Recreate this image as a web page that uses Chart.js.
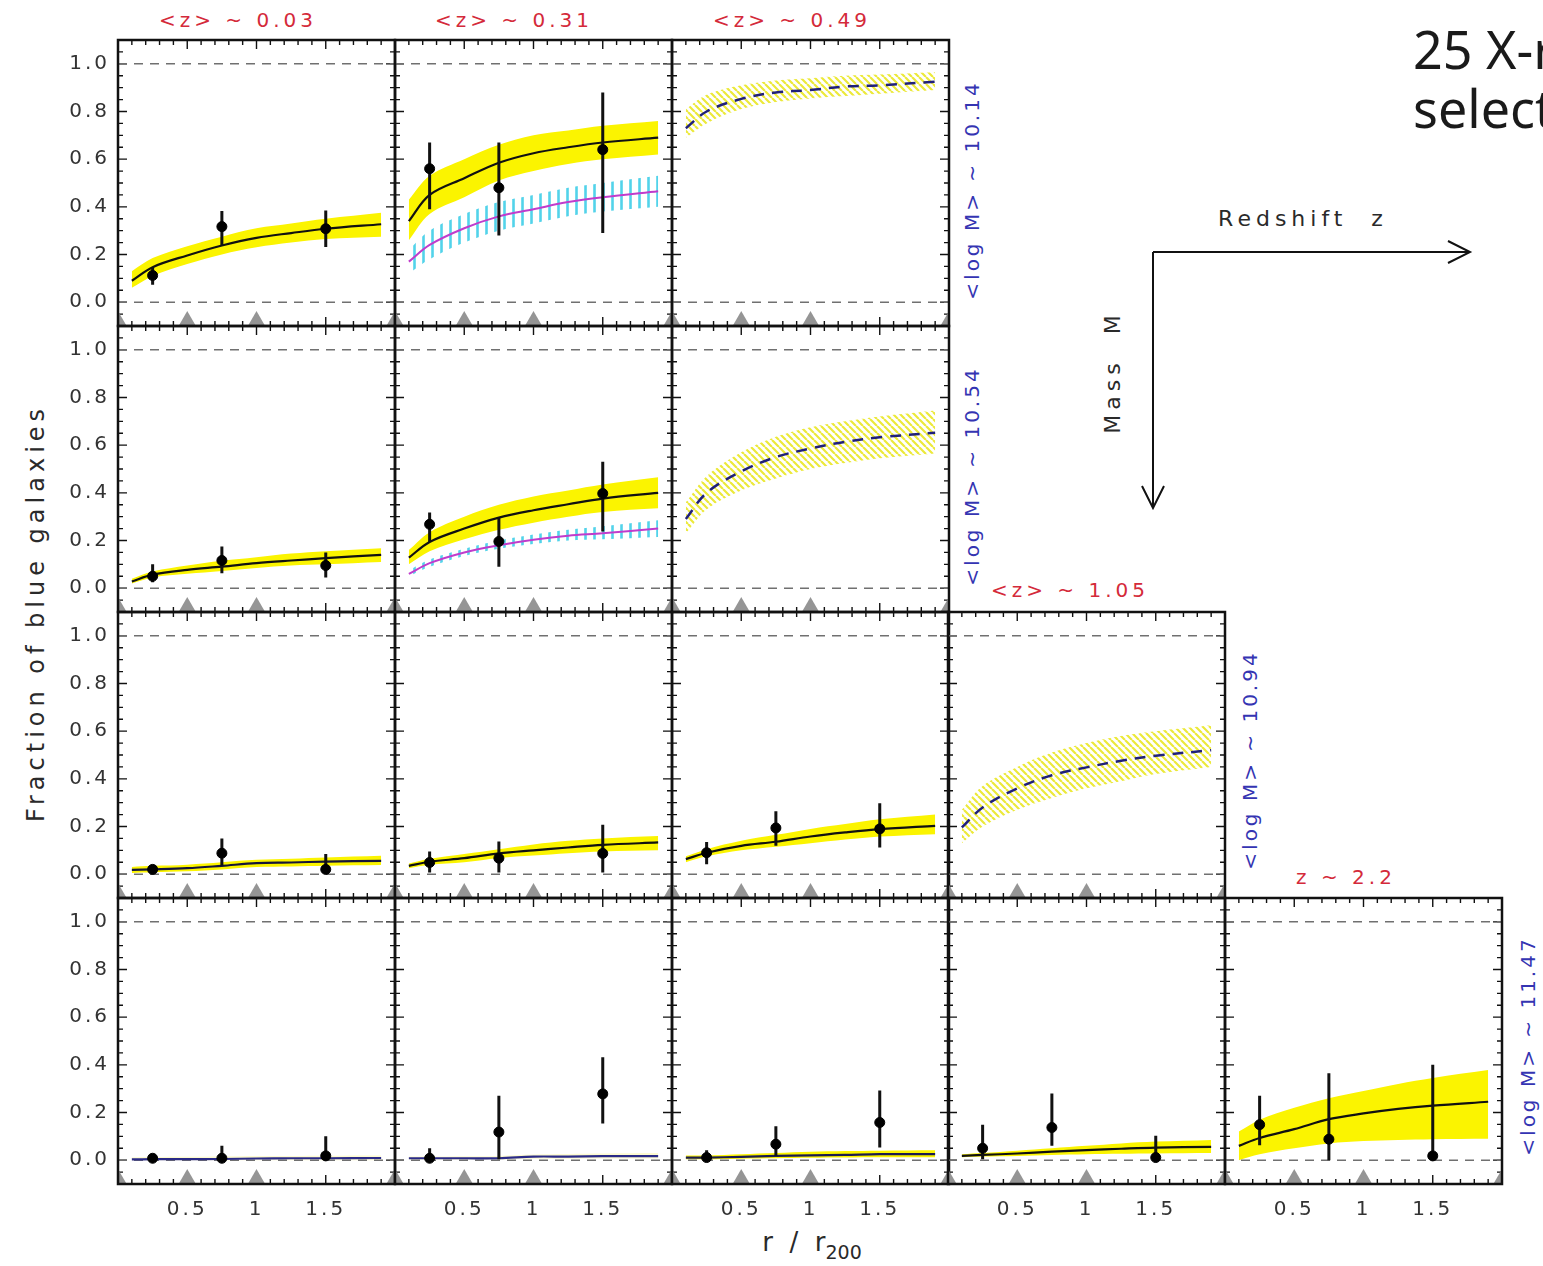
<!DOCTYPE html>
<html>
<head>
<meta charset="utf-8">
<script src="https://cdn.jsdelivr.net/npm/chart.js@4.4.1/dist/chart.umd.min.js"></script>
<style>
  html, body { margin: 0; padding: 0; background: #fff; }
  body { width: 1543px; height: 1266px; position: relative; overflow: hidden; font-family: 'DejaVu Sans', sans-serif; }
  canvas { position: absolute; }
  .lbl { position: absolute; white-space: nowrap; transform: translate(-50%, -50%); }
  .rot { transform: translate(-50%, -50%) rotate(-90deg); }
  .zlab { color: #d42a3a; font-size: 20px; letter-spacing: 4px; }
  .mlab { color: #3434b2; font-size: 20px; letter-spacing: 3px; }
  .ttl { color: #2a2a2a; }
  .big { position: absolute; left: 1413px; font-family: 'Noto Sans', sans-serif; font-size: 52px; line-height: 52px; color: #1a1a1a; white-space: nowrap; }
</style>
</head>
<body>

<div class="lbl zlab" style="left:238px; top:20px;">&lt;z&gt; ~ 0.03</div>
<div class="lbl zlab" style="left:514px; top:20px;">&lt;z&gt; ~ 0.31</div>
<div class="lbl zlab" style="left:792px; top:20px;">&lt;z&gt; ~ 0.49</div>
<div class="lbl zlab" style="left:1070px; top:590px;">&lt;z&gt; ~ 1.05</div>
<div class="lbl zlab" style="left:1346px; top:877px;">z ~ 2.2</div>

<div class="lbl rot mlab" style="left:972px; top:190px;">&lt;log M&gt; ~ 10.14</div>
<div class="lbl rot mlab" style="left:972px; top:476px;">&lt;log M&gt; ~ 10.54</div>
<div class="lbl rot mlab" style="left:1250px; top:760px;">&lt;log M&gt; ~ 10.94</div>
<div class="lbl rot mlab" style="left:1528px; top:1046px;">&lt;log M&gt; ~ 11.47</div>

<div class="lbl rot ttl" style="left:36px; top:613px; font-size:24px; letter-spacing:5px;">Fraction of blue galaxies</div>
<div class="lbl ttl" style="left:812px; top:1245px; font-size:26px;">r&nbsp;&nbsp;/&nbsp;&nbsp;r<span style="font-size:19px; vertical-align:-8px;">200</span></div>

<div class="lbl ttl" style="left:1303px; top:218px; font-size:22px; letter-spacing:5px;">Redshift&nbsp;&nbsp;z</div>
<div class="lbl rot ttl" style="left:1112px; top:372px; font-size:22px; letter-spacing:5px;">Mass&nbsp;&nbsp;M</div>

<div class="big" style="top:23px;">25 X-ray</div>
<div class="big" style="top:82px;">selected</div>

<svg width="1543" height="1266" style="position:absolute; left:0; top:0;">
  <g stroke="#111" stroke-width="2" fill="none">
    <path d="M1153 252 L1470 252 M1448 241 L1470 252 L1448 263"/>
    <path d="M1153 252 L1153 508 M1142 486 L1153 508 L1164 486"/>
  </g>
</svg>

<script>
// ---- shared axes / sampling positions ----
const curveX = [0.1, 0.25, 0.5, 0.75, 1.0, 1.25, 1.5, 1.9];
const pointX = [0.25, 0.75, 1.5];
const triangleX = [0, 0.5, 1, 2];
const triangleY = -0.079;
const refLevels = [0, 1];
const yTickValues = [0, 0.2, 0.4, 0.6, 0.8, 1.0];
const yTickLabels = ['0.0', '0.2', '0.4', '0.6', '0.8', '1.0'];
const xTickValues = [0.5, 1, 1.5];
const xTickLabels = ['0.5', '1', '1.5'];

// ---- row 1 : <log M> ~ 10.14 ----
const r1c1Line = [0.09, 0.147, 0.196, 0.238, 0.27, 0.29, 0.308, 0.327];
const r1c1Lo = [0.06, 0.11, 0.16, 0.20, 0.23, 0.25, 0.265, 0.275];
const r1c1Hi = [0.13, 0.185, 0.235, 0.275, 0.31, 0.33, 0.35, 0.375];
const r1c1Pts = [0.112, 0.317, 0.308];
const r1c1ErrLo = [0.073, 0.238, 0.231];
const r1c1ErrHi = [0.147, 0.382, 0.385];

const r1c2Line = [0.34, 0.45, 0.52, 0.585, 0.625, 0.65, 0.67, 0.69];
const r1c2Lo = [0.26, 0.37, 0.44, 0.51, 0.55, 0.58, 0.60, 0.62];
const r1c2Hi = [0.43, 0.53, 0.60, 0.66, 0.70, 0.72, 0.74, 0.76];
const r1c2Alt = [0.17, 0.24, 0.31, 0.36, 0.39, 0.42, 0.44, 0.465];
const r1c2AltLo = [0.12, 0.18, 0.25, 0.30, 0.33, 0.36, 0.38, 0.40];
const r1c2AltHi = [0.22, 0.30, 0.37, 0.42, 0.45, 0.48, 0.50, 0.53];
const r1c2Pts = [0.56, 0.48, 0.64];
const r1c2ErrLo = [0.39, 0.28, 0.29];
const r1c2ErrHi = [0.67, 0.67, 0.88];

const r1c3Pred = [0.73, 0.80, 0.853, 0.88, 0.89, 0.905, 0.91, 0.925];
const r1c3PredLo = [0.69, 0.75, 0.81, 0.84, 0.855, 0.865, 0.875, 0.89];
const r1c3PredHi = [0.81, 0.87, 0.91, 0.93, 0.94, 0.95, 0.955, 0.965];

// ---- row 2 : <log M> ~ 10.54 ----
const r2c1Line = [0.028, 0.057, 0.077, 0.09, 0.105, 0.116, 0.126, 0.14];
const r2c1Lo = [0.02, 0.045, 0.06, 0.072, 0.085, 0.095, 0.10, 0.11];
const r2c1Hi = [0.04, 0.07, 0.095, 0.115, 0.13, 0.145, 0.155, 0.168];
const r2c1Pts = [0.05, 0.116, 0.095];
const r2c1ErrLo = [0.025, 0.063, 0.045];
const r2c1ErrHi = [0.10, 0.175, 0.15];

const r2c2Line = [0.128, 0.194, 0.25, 0.296, 0.327, 0.352, 0.376, 0.40];
const r2c2Lo = [0.10, 0.155, 0.205, 0.245, 0.275, 0.30, 0.32, 0.335];
const r2c2Hi = [0.16, 0.235, 0.30, 0.35, 0.385, 0.41, 0.435, 0.465];
const r2c2Alt = [0.06, 0.105, 0.15, 0.18, 0.203, 0.22, 0.23, 0.25];
const r2c2AltLo = [0.05, 0.09, 0.135, 0.165, 0.185, 0.20, 0.205, 0.215];
const r2c2AltHi = [0.075, 0.12, 0.165, 0.20, 0.225, 0.245, 0.26, 0.285];
const r2c2Pts = [0.268, 0.196, 0.397];
const r2c2ErrLo = [0.194, 0.09, 0.238];
const r2c2ErrHi = [0.317, 0.295, 0.53];

const r2c3Pred = [0.29, 0.40, 0.49, 0.55, 0.586, 0.614, 0.633, 0.652];
const r2c3PredLo = [0.23, 0.33, 0.41, 0.46, 0.50, 0.525, 0.545, 0.565];
const r2c3PredHi = [0.36, 0.47, 0.57, 0.635, 0.675, 0.70, 0.72, 0.745];

// ---- row 3 : <log M> ~ 10.94 ----
const r3c1Line = [0.018, 0.02, 0.025, 0.035, 0.046, 0.049, 0.053, 0.056];
const r3c1Lo = [0.005, 0.008, 0.012, 0.02, 0.03, 0.032, 0.035, 0.038];
const r3c1Hi = [0.03, 0.035, 0.04, 0.05, 0.06, 0.065, 0.07, 0.077];
const r3c1Pts = [0.02, 0.088, 0.02];
const r3c1ErrLo = [0.007, 0.035, 0.008];
const r3c1ErrHi = [0.04, 0.15, 0.085];

const r3c2Line = [0.035, 0.052, 0.067, 0.087, 0.10, 0.112, 0.123, 0.133];
const r3c2Lo = [0.025, 0.04, 0.05, 0.068, 0.078, 0.088, 0.095, 0.10];
const r3c2Hi = [0.045, 0.065, 0.085, 0.105, 0.125, 0.14, 0.15, 0.16];
const r3c2Pts = [0.049, 0.067, 0.087];
const r3c2ErrLo = [0.007, 0.007, 0.007];
const r3c2ErrHi = [0.095, 0.137, 0.207];

const r3c3Line = [0.063, 0.09, 0.119, 0.136, 0.158, 0.175, 0.189, 0.203];
const r3c3Lo = [0.05, 0.075, 0.10, 0.115, 0.13, 0.145, 0.158, 0.168];
const r3c3Hi = [0.075, 0.105, 0.14, 0.165, 0.19, 0.21, 0.23, 0.25];
const r3c3Pts = [0.09, 0.194, 0.19];
const r3c3ErrLo = [0.042, 0.119, 0.112];
const r3c3ErrHi = [0.135, 0.264, 0.298];

const r3c4Pred = [0.196, 0.28, 0.36, 0.415, 0.448, 0.476, 0.497, 0.52];
const r3c4PredLo = [0.13, 0.20, 0.27, 0.32, 0.36, 0.39, 0.42, 0.45];
const r3c4PredHi = [0.27, 0.37, 0.45, 0.51, 0.55, 0.58, 0.60, 0.625];

// ---- row 4 : <log M> ~ 11.47 ----
const r4c1Line = [0.003, 0.004, 0.004, 0.005, 0.007, 0.008, 0.008, 0.009];
const r4c1Lo = [0, 0, 0, 0, 0, 0, 0, 0];
const r4c1Hi = [0.012, 0.013, 0.014, 0.015, 0.017, 0.018, 0.019, 0.02];
const r4c1Pts = [0.008, 0.008, 0.018];
const r4c1ErrLo = [0, 0, 0];
const r4c1ErrHi = [0.018, 0.06, 0.10];

const r4c2Line = [0.008, 0.008, 0.008, 0.008, 0.015, 0.015, 0.017, 0.017];
const r4c2Lo = [0.002, 0.002, 0.002, 0.002, 0.006, 0.006, 0.007, 0.007];
const r4c2Hi = [0.015, 0.015, 0.016, 0.018, 0.024, 0.026, 0.028, 0.03];
const r4c2Pts = [0.008, 0.118, 0.278];
const r4c2ErrLo = [0, 0.004, 0.154];
const r4c2ErrHi = [0.05, 0.27, 0.432];

const r4c3Line = [0.011, 0.011, 0.014, 0.018, 0.02, 0.022, 0.025, 0.025];
const r4c3Lo = [0.004, 0.004, 0.006, 0.008, 0.01, 0.011, 0.012, 0.012];
const r4c3Hi = [0.02, 0.02, 0.025, 0.03, 0.035, 0.038, 0.04, 0.042];
const r4c3Pts = [0.011, 0.067, 0.158];
const r4c3ErrLo = [0, 0.018, 0.053];
const r4c3ErrHi = [0.042, 0.142, 0.292];

const r4c4Line = [0.018, 0.022, 0.028, 0.036, 0.042, 0.048, 0.053, 0.056];
const r4c4Lo = [0.012, 0.015, 0.018, 0.022, 0.025, 0.027, 0.028, 0.03];
const r4c4Hi = [0.025, 0.03, 0.04, 0.05, 0.06, 0.07, 0.078, 0.085];
const r4c4Pts = [0.05, 0.137, 0.011];
const r4c4ErrLo = [0.004, 0.06, 0];
const r4c4ErrHi = [0.149, 0.28, 0.102];

const r4c5Line = [0.06, 0.093, 0.13, 0.172, 0.196, 0.215, 0.229, 0.245];
const r4c5Lo = [0.0, 0.025, 0.05, 0.07, 0.08, 0.085, 0.088, 0.09];
const r4c5Hi = [0.12, 0.17, 0.22, 0.26, 0.29, 0.32, 0.345, 0.378];
const r4c5Pts = [0.149, 0.088, 0.018];
const r4c5ErrLo = [0.063, 0, 0];
const r4c5ErrHi = [0.27, 0.365, 0.40];

// ---- layout ----
const PANEL_W = 277, PANEL_H = 286, M = 12;
const colLeft = [118, 395, 672, 948, 1225];
const rowTop = [40, 326, 612, 898];
const NAVY = '#2a2a88';

const panels = [
  { row: 0, col: 0, line: r1c1Line, lo: r1c1Lo, hi: r1c1Hi, pts: r1c1Pts, errLo: r1c1ErrLo, errHi: r1c1ErrHi },
  { row: 0, col: 1, line: r1c2Line, lo: r1c2Lo, hi: r1c2Hi, pts: r1c2Pts, errLo: r1c2ErrLo, errHi: r1c2ErrHi,
    alt: r1c2Alt, altLo: r1c2AltLo, altHi: r1c2AltHi },
  { row: 0, col: 2, pred: r1c3Pred, predLo: r1c3PredLo, predHi: r1c3PredHi },
  { row: 1, col: 0, line: r2c1Line, lo: r2c1Lo, hi: r2c1Hi, pts: r2c1Pts, errLo: r2c1ErrLo, errHi: r2c1ErrHi },
  { row: 1, col: 1, line: r2c2Line, lo: r2c2Lo, hi: r2c2Hi, pts: r2c2Pts, errLo: r2c2ErrLo, errHi: r2c2ErrHi,
    alt: r2c2Alt, altLo: r2c2AltLo, altHi: r2c2AltHi },
  { row: 1, col: 2, pred: r2c3Pred, predLo: r2c3PredLo, predHi: r2c3PredHi },
  { row: 2, col: 0, line: r3c1Line, lo: r3c1Lo, hi: r3c1Hi, pts: r3c1Pts, errLo: r3c1ErrLo, errHi: r3c1ErrHi, lineColor: '#15153a' },
  { row: 2, col: 1, line: r3c2Line, lo: r3c2Lo, hi: r3c2Hi, pts: r3c2Pts, errLo: r3c2ErrLo, errHi: r3c2ErrHi },
  { row: 2, col: 2, line: r3c3Line, lo: r3c3Lo, hi: r3c3Hi, pts: r3c3Pts, errLo: r3c3ErrLo, errHi: r3c3ErrHi },
  { row: 2, col: 3, pred: r3c4Pred, predLo: r3c4PredLo, predHi: r3c4PredHi },
  { row: 3, col: 0, line: r4c1Line, lo: r4c1Lo, hi: r4c1Hi, pts: r4c1Pts, errLo: r4c1ErrLo, errHi: r4c1ErrHi, lineColor: NAVY, bandColor: '#fdfbd0' },
  { row: 3, col: 1, line: r4c2Line, lo: r4c2Lo, hi: r4c2Hi, pts: r4c2Pts, errLo: r4c2ErrLo, errHi: r4c2ErrHi, lineColor: NAVY, bandColor: '#fdfbd0' },
  { row: 3, col: 2, line: r4c3Line, lo: r4c3Lo, hi: r4c3Hi, pts: r4c3Pts, errLo: r4c3ErrLo, errHi: r4c3ErrHi, lineColor: '#1b1b50' },
  { row: 3, col: 3, line: r4c4Line, lo: r4c4Lo, hi: r4c4Hi, pts: r4c4Pts, errLo: r4c4ErrLo, errHi: r4c4ErrHi },
  { row: 3, col: 4, line: r4c5Line, lo: r4c5Lo, hi: r4c5Hi, pts: r4c5Pts, errLo: r4c5ErrLo, errHi: r4c5ErrHi }
];

// hatch fills for the prediction / alternative model bands
function makeHatch(color, size, width, vertical) {
  const c = document.createElement('canvas');
  c.width = c.height = size;
  const g = c.getContext('2d');
  g.strokeStyle = color;
  g.lineWidth = width;
  g.beginPath();
  if (vertical) {
    g.moveTo(size / 2, 0); g.lineTo(size / 2, size);
  } else {
    for (let k = -1; k <= 1; k++) { g.moveTo(k * size, 0); g.lineTo(k * size + size, size); }
  }
  g.stroke();
  return g.createPattern(c, 'repeat');
}
const yellowHatch = makeHatch('#ece93a', 7, 2.2, false);
const cyanHatch = makeHatch('#52d3ea', 9, 2.6, true);

const xy = (xs, ys) => ys.map((y, i) => ({ x: xs[i], y }));
const errBars = (lo, hi) => pointX.flatMap((x, i) => [{ x, y: lo[i] }, { x, y: hi[i] }, { x, y: null }]);

function bandSets(lo, hi, fill) {
  const common = { type: 'line', borderWidth: 0, borderColor: 'rgba(0,0,0,0)', pointRadius: 0, tension: 0.35, order: 20 };
  return [
    { ...common, data: xy(curveX, lo), fill: false },
    { ...common, data: xy(curveX, hi), fill: '-1', backgroundColor: fill }
  ];
}

function curveSet(ys, color, dash, width) {
  return { type: 'line', data: xy(curveX, ys), borderColor: color, borderWidth: width, borderDash: dash,
    pointRadius: 0, fill: false, tension: 0.35, order: 10 };
}

// inward ticks on all four sides (under the marks), frame on top
const framePlugin = {
  id: 'frame',
  beforeDatasetsDraw(chart) {
    const { ctx, chartArea: a, scales: { x, y } } = chart;
    ctx.save();
    ctx.strokeStyle = '#111';
    ctx.lineWidth = 1.4;
    ctx.beginPath();
    for (let v = 1; v < 20; v++) {
      const px = x.getPixelForValue(v / 10);
      const len = v % 5 === 0 ? 9 : 5;
      ctx.moveTo(px, a.bottom); ctx.lineTo(px, a.bottom - len);
      ctx.moveTo(px, a.top); ctx.lineTo(px, a.top + len);
    }
    for (let v = -1; v <= 21; v++) {
      const py = y.getPixelForValue(v / 20);
      const len = v % 4 === 0 ? 9 : 5;
      ctx.moveTo(a.left, py); ctx.lineTo(a.left + len, py);
      ctx.moveTo(a.right, py); ctx.lineTo(a.right - len, py);
    }
    ctx.stroke();
    ctx.restore();
  },
  afterDatasetsDraw(chart) {
    const { ctx, chartArea: a } = chart;
    ctx.save();
    ctx.strokeStyle = '#111';
    ctx.lineWidth = 2.5;
    ctx.strokeRect(a.left, a.top, a.width, a.height);
    ctx.restore();
  }
};

const spacingPlugin = {
  id: 'spacing',
  beforeDraw(chart) { chart.ctx.letterSpacing = '3px'; }
};

function addPanel(p) {
  const padL = p.col === 0 ? 110 : M;
  const padB = p.row === 3 ? 60 : M;
  const padT = M, padR = M;
  const W = PANEL_W + padL + padR, H = PANEL_H + padT + padB;
  const cv = document.createElement('canvas');
  cv.width = W; cv.height = H;
  cv.style.left = (colLeft[p.col] - padL) + 'px';
  cv.style.top = (rowTop[p.row] - padT) + 'px';
  cv.style.width = W + 'px'; cv.style.height = H + 'px';
  document.body.appendChild(cv);

  const datasets = [];
  if (p.pred) {
    datasets.push(...bandSets(p.predLo, p.predHi, yellowHatch));
    datasets.push(curveSet(p.pred, '#20207a', [11, 8], 2.5));
  }
  if (p.line) {
    datasets.push(...bandSets(p.lo, p.hi, p.bandColor || '#fbf400'));
    if (p.alt) {
      datasets.push(...bandSets(p.altLo, p.altHi, cyanHatch));
      datasets.push(curveSet(p.alt, '#c03ccc', [], 2));
    }
    datasets.push(curveSet(p.line, p.lineColor || '#111', [], 2.2));
    datasets.push({ type: 'line', data: errBars(p.errLo, p.errHi), borderColor: '#111', borderWidth: 3,
      pointRadius: 0, fill: false, spanGaps: false, order: 5 });
    datasets.push({ type: 'scatter', data: xy(pointX, p.pts), backgroundColor: '#000', borderColor: '#000',
      pointRadius: 5, order: 4 });
  }
  refLevels.forEach(lvl => datasets.push({ type: 'line', data: [{ x: 0, y: lvl }, { x: 2, y: lvl }],
    borderColor: '#707070', borderWidth: 1.5, borderDash: [9, 7], pointRadius: 0, fill: false, order: 15 }));
  datasets.push({ type: 'scatter', data: triangleX.map(x => ({ x, y: triangleY })), pointStyle: 'triangle',
    pointRadius: 10, backgroundColor: '#959595', borderColor: 'rgba(0,0,0,0)', borderWidth: 0, order: 3 });

  const tickFont = { family: 'DejaVu Sans', size: 20 };
  const noPad = s => { s.paddingTop = 0; s.paddingBottom = 0; s.paddingLeft = 0; s.paddingRight = 0; };
  new Chart(cv, {
    type: 'line',
    data: { datasets },
    options: {
      responsive: false,
      animation: false,
      devicePixelRatio: 1,
      events: [],
      layout: { autoPadding: false, padding: { top: padT, right: padR, left: 0, bottom: 0 } },
      plugins: { legend: { display: false }, tooltip: { enabled: false } },
      scales: {
        x: {
          type: 'linear', min: 0, max: 2, bounds: 'data',
          grid: { display: false, drawTicks: false }, border: { display: false },
          afterBuildTicks: s => { s.ticks = xTickValues.map(value => ({ value })); },
          afterFit: s => { s.height = padB; noPad(s); },
          ticks: { display: p.row === 3, autoSkip: false, maxRotation: 0, padding: 14, color: '#333', font: tickFont,
            callback: v => xTickLabels[xTickValues.indexOf(v)] }
        },
        y: {
          type: 'linear', min: -0.1, max: 1.1, bounds: 'data',
          grid: { display: false, drawTicks: false }, border: { display: false },
          afterBuildTicks: s => { s.ticks = yTickValues.map(value => ({ value })); },
          afterFit: s => { s.width = padL; noPad(s); },
          ticks: { display: p.col === 0, autoSkip: false, padding: 8, color: '#333', font: tickFont,
            callback: v => yTickLabels[yTickValues.indexOf(v)] }
        }
      }
    },
    plugins: [spacingPlugin, framePlugin]
  });
}

panels.forEach(addPanel);
</script>
</body>
</html>
